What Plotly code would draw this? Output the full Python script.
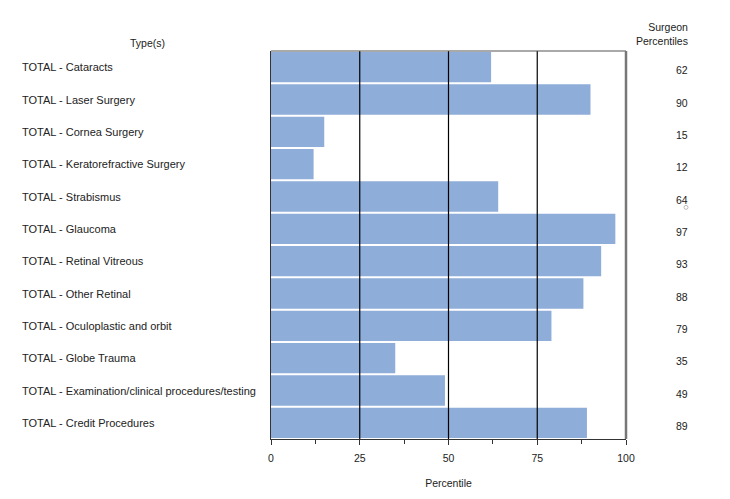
import plotly.graph_objects as go

# data
types = [
    "TOTAL - Cataracts",
    "TOTAL - Laser Surgery",
    "TOTAL - Cornea Surgery",
    "TOTAL - Keratorefractive Surgery",
    "TOTAL - Strabismus",
    "TOTAL - Glaucoma",
    "TOTAL - Retinal Vitreous",
    "TOTAL - Other Retinal",
    "TOTAL - Oculoplastic and orbit",
    "TOTAL - Globe Trauma",
    "TOTAL - Examination/clinical procedures/testing",
    "TOTAL - Credit Procedures",
]
percentiles = [62, 90, 15, 12, 64, 97, 93, 88, 79, 35, 49, 89]
ref_lines = [25, 50, 75]
tick_vals = [0, 25, 50, 75, 100]
minor_vals = [12.5, 37.5, 62.5, 87.5]

# page body adds 8px margin, so the figure is 8px smaller and offset
OFF = 8
W, H = 730 - OFF, 499 - OFF
L, T = 271 - OFF, 51 - OFF
plot_w, plot_h = 355, 392
R, B = W - L - plot_w, H - T - plot_h
FONT = "Liberation Sans, Arial, sans-serif"
TXT = "#222222"


def px(x):
    # page x pixel -> paper x
    return (x - OFF - L) / plot_w


def py(y):
    # page y pixel -> paper y
    return 1 - (y - OFF - T) / plot_h


fig = go.Figure(
    go.Bar(
        x=percentiles,
        y=types,
        orientation="h",
        marker=dict(color="#8FADD9", line=dict(width=0)),
        hoverinfo="x+y",
    )
)

# vertical reference lines drawn over the bars
for v in ref_lines:
    fig.add_shape(type="line", xref="x", yref="paper", x0=v, x1=v, y0=0, y1=1,
                  line=dict(color="black", width=1.2), layer="above")
# frame: top and thick grey right edge
fig.add_shape(type="line", xref="paper", yref="paper", x0=0, x1=1, y0=1, y1=1,
              line=dict(color="#555555", width=1.2), layer="above")
fig.add_shape(type="line", xref="paper", yref="paper", x0=1, x1=1, y0=0, y1=1,
              line=dict(color="#777777", width=2.5), layer="above")
# small stray circle under the 64
fig.add_shape(type="circle", xref="paper", yref="paper",
              x0=px(684), x1=px(688), y0=py(207), y1=py(211),
              line=dict(color="#aaaaaa", width=0.8))

ann = []
for name in types:
    ann.append(dict(x=px(20), y=name, xref="paper", yref="y", text=name,
                    xanchor="left", yanchor="middle", showarrow=False,
                    font=dict(size=11, color=TXT, family=FONT)))
for name, p in zip(types, percentiles):
    ann.append(dict(x=px(690), y=name, xref="paper", yref="y", text=str(p),
                    xanchor="right", yanchor="middle", yshift=-3, showarrow=False,
                    font=dict(size=10.5, color=TXT, family=FONT)))
ann.append(dict(x=px(147), y=1, xref="paper", yref="paper", yshift=0,
                text="Type(s)", xanchor="center", yanchor="bottom", showarrow=False,
                font=dict(size=10.5, color=TXT, family=FONT)))
ann.append(dict(x=px(690), y=1, xref="paper", yref="paper", yshift=2,
                text="Surgeon<br>Percentiles", xanchor="right", yanchor="bottom",
                align="right", showarrow=False,
                font=dict(size=10.5, color=TXT, family=FONT)))

fig.update_layout(
    width=W, height=H,
    margin=dict(l=L, r=R, t=T, b=B),
    paper_bgcolor="white", plot_bgcolor="white",
    bargap=0.06,
    showlegend=False,
    annotations=ann,
    font=dict(family=FONT, size=10, color=TXT),
    xaxis=dict(
        range=[0, 100], tickvals=tick_vals, ticks="outside", ticklen=5,
        tickcolor="#333333", showgrid=False, zeroline=False,
        showline=True, linecolor="#333333", linewidth=1.2,
        minor=dict(tickvals=minor_vals, ticks="outside", ticklen=4,
                   tickcolor="#333333"),
        ticklabelstandoff=4,
        title=dict(text="Percentile", standoff=16, font=dict(size=10.5)),
        tickfont=dict(size=10.5), fixedrange=True,
    ),
    yaxis=dict(
        autorange="reversed", showticklabels=False, ticks="", showgrid=False,
        showline=True, linecolor="#333333", linewidth=1.2, zeroline=False,
        fixedrange=True,
    ),
)

fig.write_html("out.html")
